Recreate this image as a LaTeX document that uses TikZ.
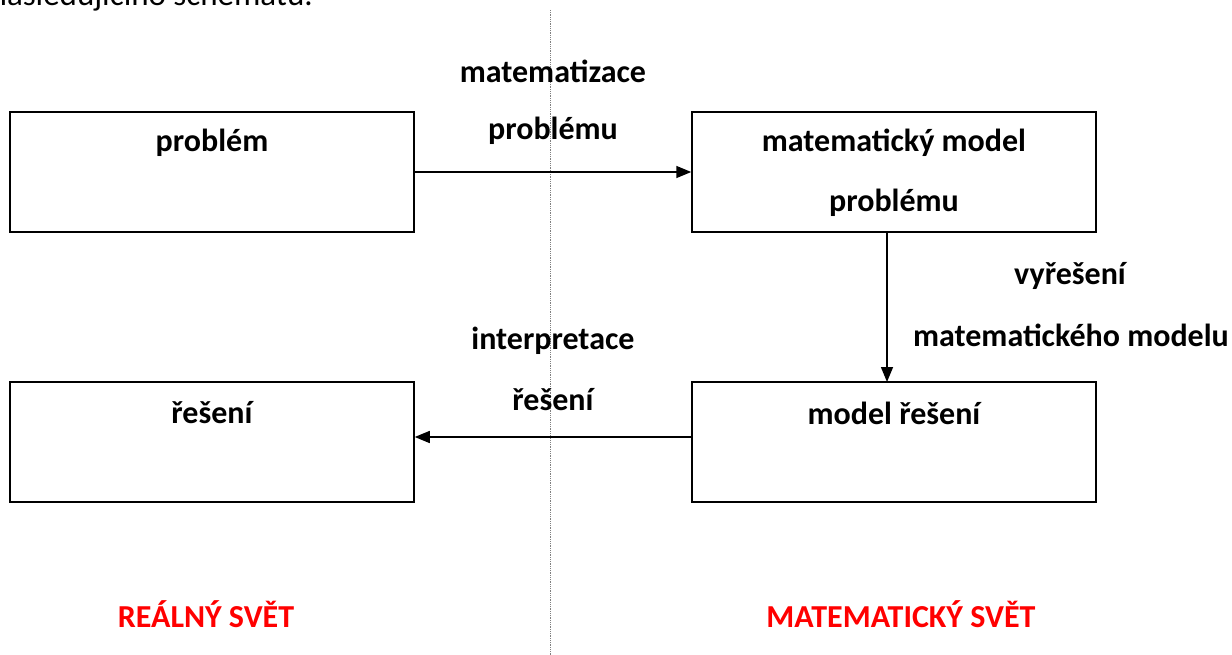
\documentclass[tikz,border=0pt]{standalone}
\usepackage{fontspec}
\setmainfont{Carlito}
\usetikzlibrary{arrows.meta}

\begin{document}
\begin{tikzpicture}[x=1pt,y=-1pt,
  box/.style={draw,line width=1.5pt,minimum width=404pt,minimum height=120pt,inner sep=0pt},
  lbl/.style={font=\fontsize{32}{38}\selectfont\bfseries},
  world/.style={font=\fontsize{32}{38}\selectfont\bfseries,text=red},
  arr/.style={line width=1.5pt,-{Triangle[length=15pt,width=12pt]}}]
\useasboundingbox (0,0) rectangle (1232,655);

\node[anchor=base east,inner xsep=0pt,font=\fontsize{33}{39}\selectfont] (intro) at (313,6) {následujícího schématu.};

\node[box] (P) at (212,172) {};
\node[box] (M) at (894,172) {};
\node[box] (R) at (212,442) {};
\node[box] (MR) at (894,442) {};

\node[lbl] (Ptext) at (212,143) {problém};
\node[lbl] (Mtext1) at (894,143) {matematický model};
\node[lbl] (Mtext2) at (894,203) {problému};
\node[lbl] (Rtext) at (212,413) {řešení};
\node[lbl] (MRtext) at (894,413) {model řešení};

\draw[densely dotted,gray,line width=0.8pt] (550,10) coordinate (top) -- (550,655) coordinate (bottom);

\draw[arr] (P.east) -- (M.west);
\draw[arr] (MR.west |- 0,437) -- (R.east |- 0,437);
\draw[arr] (887,232) -- (887,382);

\node[lbl] (mat1) at (553,71) {matematizace};
\node[lbl] (mat2) at (553,131) {problému};
\node[lbl] (vyr1) at (1070,276) {vyřešení};
\node[lbl] (vyr2) at (1071,335) {matematického modelu};
\node[lbl] (int1) at (553,341) {interpretace};
\node[lbl] (int2) at (553,400) {řešení};

\node[world] (real) at (206,614) {REÁLNÝ SVĚT};
\node[world] (math) at (901,614) {MATEMATICKÝ SVĚT};
\end{tikzpicture}
\end{document}
